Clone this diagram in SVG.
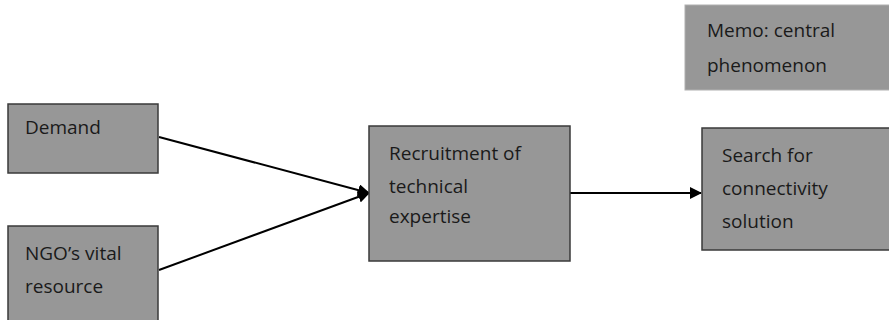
<svg xmlns="http://www.w3.org/2000/svg" width="889" height="320" viewBox="0 0 889 320">
<defs>
<style>
.box{fill:#979797;stroke:#3a3a3a;stroke-width:1.5}
.memo{fill:#979797;stroke:#b0b0b0;stroke-width:1}
.t{font-family:"Open Sans",sans-serif;font-size:19px;fill:#1a1a1a}
.c{stroke:#000;stroke-width:2;fill:none;marker-end:url(#ah)}
</style>
<marker id="ah" viewBox="0 0 12 12" refX="11" refY="6" markerWidth="12" markerHeight="12" markerUnits="userSpaceOnUse" orient="auto">
<path d="M0,0 L12,6 L0,12 Z" fill="#000"/>
</marker>
</defs>
<rect width="889" height="320" fill="#fff"/>
<g id="connectors">
<line class="c" x1="159" y1="137" x2="369" y2="193"/>
<line class="c" x1="159" y1="270" x2="369" y2="193"/>
<line class="c" x1="570" y1="193" x2="701" y2="193"/>
</g>
<g id="memo">
<rect class="memo" x="685" y="5" width="210" height="85"/>
<text class="t" x="707" y="37">Memo: central</text>
<text class="t" x="707" y="72">phenomenon</text>
</g>
<g id="demand">
<rect class="box" x="8" y="104" width="150" height="69"/>
<text class="t" x="25" y="134">Demand</text>
</g>
<g id="ngo">
<rect class="box" x="8" y="226" width="150" height="100"/>
<text class="t" x="25" y="260">NGO’s vital</text>
<text class="t" x="25" y="293">resource</text>
</g>
<g id="recruitment">
<rect class="box" x="369" y="126" width="201" height="135"/>
<text class="t" x="389" y="160">Recruitment of</text>
<text class="t" x="389" y="193">technical</text>
<text class="t" x="389" y="223">expertise</text>
</g>
<g id="search">
<rect class="box" x="702" y="128" width="200" height="122"/>
<text class="t" x="722" y="162">Search for</text>
<text class="t" x="722" y="195">connectivity</text>
<text class="t" x="722" y="228">solution</text>
</g>
</svg>
